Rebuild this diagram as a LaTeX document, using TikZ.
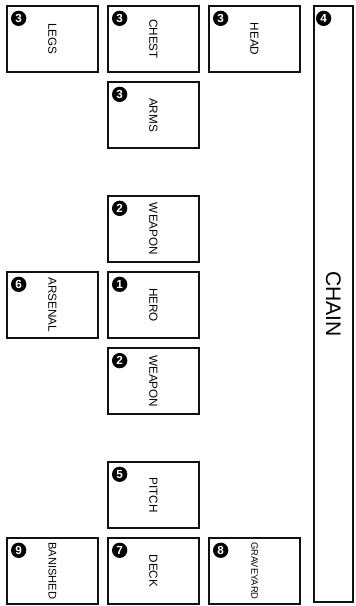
\documentclass[tikz,border=0pt]{standalone}
\usepackage{fontspec}
\setmainfont{Liberation Sans}
\usepackage{tikz}
\usetikzlibrary{positioning, calc}
\definecolor{cardline}{HTML}{111111}
\newcommand{\vtext}[1]{\rotatebox{-90}{#1}}

\begin{document}
\begin{tikzpicture}[
  node distance=0.24cm,
  card/.style={rectangle, draw=cardline, line width=1.7pt, fill=white, minimum width=2.73cm, minimum height=1.98cm, font=\fontsize{10}{12}\selectfont, inner sep=0pt},
  badge/.style={circle, fill=black, text=white, minimum size=0.46cm, inner sep=0pt, font=\fontsize{10}{11}\selectfont\bfseries}
]
  \useasboundingbox (-1.575,1.17) rectangle (9.105,-17.01);

  \node[card] (legs) at (0,0) {\vtext{LEGS}};
  \node[card, right=of legs] (chest) {\vtext{CHEST}};
  \node[card, right=of chest] (head) {\vtext{HEAD}};
  \node[card, below=of chest] (arms) {\vtext{ARMS}};
  \node[card, below=1.38cm of arms] (weapontop) {\vtext{WEAPON}};
  \node[card, below=of weapontop] (hero) {\vtext{HERO}};
  \node[card, left=of hero] (arsenal) {\vtext{ARSENAL}};
  \node[card, below=0.25cm of hero] (weaponbot) {\vtext{WEAPON}};
  \node[card, below=1.37cm of weaponbot] (pitch) {\vtext{PITCH}};
  \node[card, below=of pitch] (deck) {\vtext{DECK}};
  \node[card, left=of deck, font=\fontsize{9.5}{11}\selectfont] (banished) {\vtext{BANISHED}};
  \node[card, right=of deck, font=\fontsize{8}{10}\selectfont] (graveyard) {\vtext{GRAVEYARD}};
  \node[card, right=0.36cm of head.north east, anchor=north west, minimum width=1.17cm, minimum height=17.88cm, font=\fontsize{18}{20}\selectfont] (chain) {\vtext{CHAIN}};

  % zone numbers
  \node[badge] at ([xshift=0.38cm, yshift=-0.4cm]hero.north west) {1};
  \node[badge] at ([xshift=0.38cm, yshift=-0.4cm]weapontop.north west) {2};
  \node[badge] at ([xshift=0.38cm, yshift=-0.4cm]weaponbot.north west) {2};
  \node[badge] at ([xshift=0.38cm, yshift=-0.4cm]legs.north west) {3};
  \node[badge] at ([xshift=0.38cm, yshift=-0.4cm]chest.north west) {3};
  \node[badge] at ([xshift=0.38cm, yshift=-0.4cm]head.north west) {3};
  \node[badge] at ([xshift=0.38cm, yshift=-0.4cm]arms.north west) {3};
  \node[badge] at ([xshift=0.32cm, yshift=-0.4cm]chain.north west) {4};
  \node[badge] at ([xshift=0.38cm, yshift=-0.4cm]pitch.north west) {5};
  \node[badge] at ([xshift=0.38cm, yshift=-0.4cm]arsenal.north west) {6};
  \node[badge] at ([xshift=0.38cm, yshift=-0.4cm]deck.north west) {7};
  \node[badge] at ([xshift=0.38cm, yshift=-0.4cm]graveyard.north west) {8};
  \node[badge] at ([xshift=0.38cm, yshift=-0.4cm]banished.north west) {9};
\end{tikzpicture}
\end{document}
